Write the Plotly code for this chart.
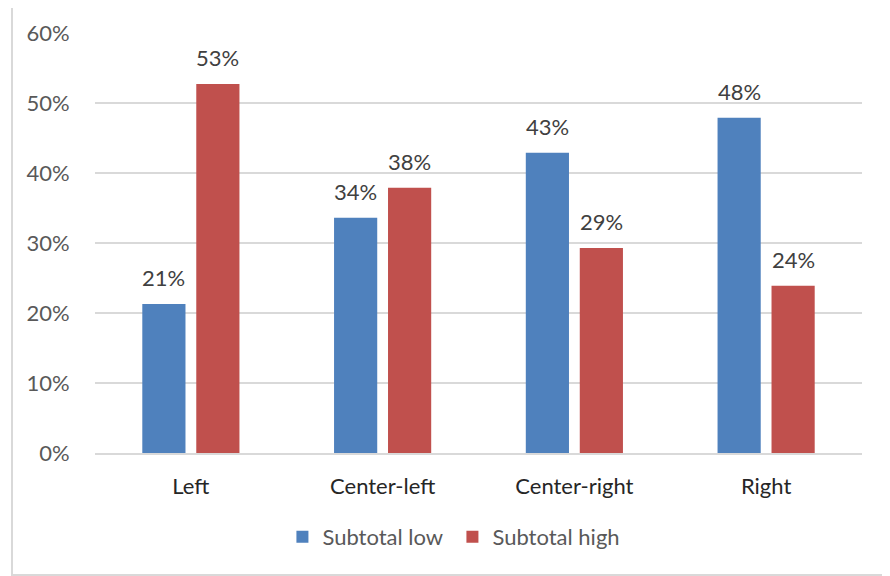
import plotly.graph_objects as go

categories = ["Left", "Center-left", "Center-right", "Right"]
subtotal_low = [0.213, 0.336, 0.429, 0.479]
subtotal_high = [0.527, 0.379, 0.293, 0.239]
series_names = ["Subtotal low", "Subtotal high"]
colors = ["#4F81BD", "#C0504D"]
tick_vals = [0, 0.1, 0.2, 0.3, 0.4, 0.5, 0.6]
tick_text = ["0%", "10%", "20%", "30%", "40%", "50%", "60%"]

FONT = "Lato"
FS = 22
fig = go.Figure()
for name, vals, col in zip(series_names, [subtotal_low, subtotal_high], colors):
    fig.add_trace(go.Bar(
        x=categories, y=vals, name=name,
        marker=dict(color=col, line=dict(width=0)),
    ))

annotations = []
for shift, vals in zip([-27, 27], [subtotal_low, subtotal_high]):
    for c, v in zip(categories, vals):
        annotations.append(dict(
            x=c, y=v, xref="x", yref="y", text=f"{round(v*100)}%",
            showarrow=False, xshift=shift, yshift=11, yanchor="bottom",
            font=dict(family=FONT, size=FS, color="#404040"),
        ))

fig.update_layout(
    width=882, height=568,
    margin=dict(l=87, r=28, t=25, b=123),
    paper_bgcolor="white", plot_bgcolor="white",
    barmode="group", bargap=0.437, bargroupgap=0.2,
    font=dict(family=FONT, size=FS, color="#595959"),
    xaxis=dict(
        tickfont=dict(family=FONT, size=FS, color="#262626"),
        showgrid=False, showline=True, linecolor="#D9D9D9", linewidth=2,
        ticks="outside", ticklen=13, tickcolor="rgba(0,0,0,0)",
    ),
    yaxis=dict(
        range=[0, 0.6], tickvals=tick_vals, ticktext=tick_text,
        tickfont=dict(family=FONT, size=FS, color="#595959"),
        showgrid=True, gridcolor="#D9D9D9", gridwidth=2,
        zeroline=False, showline=False, ticks="outside", ticklen=20, tickcolor="rgba(0,0,0,0)",
    ),
    legend=dict(
        orientation="h", x=0.466, xanchor="center", y=-0.2, yanchor="middle",
        font=dict(family=FONT, size=FS, color="#595959"),
        traceorder="normal", entrywidth=125, entrywidthmode="pixels",
    ),
    annotations=annotations,
    shapes=[dict(
        type="rect", xref="paper", yref="paper",
        x0=-0.1082, x1=1.08, y0=-0.2905, y1=1.069,
        line=dict(color="#D9D9D9", width=2), fillcolor="rgba(0,0,0,0)", layer="below",
    )],
)
fig.write_html("out.html")
